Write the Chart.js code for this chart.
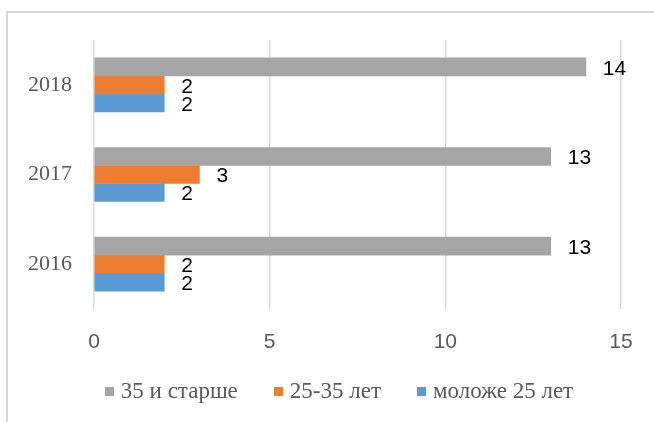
<!DOCTYPE html>
<html>
<head>
<meta charset="utf-8">
<script src="https://cdn.jsdelivr.net/npm/chart.js@4.4.0/dist/chart.umd.min.js"></script>
<style>
  html, body { margin: 0; padding: 0; background: #fff; overflow: hidden; }
  #wrap { position: relative; width: 654px; height: 422px; overflow: hidden; }
  #frame { position: absolute; left: 6px; top: 11px; width: 800px; height: 600px; border: 2px solid #d9d9d9; box-sizing: border-box; }
  #c { position: absolute; left: 0; top: 0; }
  #legend { position: absolute; top: 378px; left: 0; width: 678px; display: flex; justify-content: center; font-family: "Liberation Serif", "Times New Roman", serif; font-size: 23px; color: #595959; }
  .item { display: flex; align-items: center; margin: 0 18px; }
  .sw { width: 9px; height: 9px; margin-right: 7px; }
</style>
</head>
<body>
<div id="wrap">
  <div id="frame"></div>
  <canvas id="c" width="654" height="422"></canvas>
  <div id="legend"></div>
</div>
<script>
const categories = ['2018', '2017', '2016'];
const seriesNames = ['35 и старше', '25-35 лет', 'моложе 25 лет'];
const olderValues = [14, 13, 13];
const middleValues = [2, 3, 2];
const youngerValues = [2, 2, 2];
const xTicks = [0, 5, 10, 15];
const seriesColors = ['#a5a5a5', '#ed7d31', '#5b9bd5'];
const seriesValues = [olderValues, middleValues, youngerValues];

const dataLabels = {
  id: 'dataLabels',
  afterDatasetsDraw(chart) {
    const ctx = chart.ctx;
    ctx.save();
    ctx.font = '21px "Liberation Sans", Arial, sans-serif';
    ctx.fillStyle = '#000';
    ctx.textAlign = 'left';
    ctx.textBaseline = 'middle';
    chart.data.datasets.forEach((ds, i) => {
      chart.getDatasetMeta(i).data.forEach((el, j) => {
        ctx.fillText(String(ds.data[j]), el.x + 17, el.y + 2);
      });
    });
    ctx.restore();
  }
};

new Chart(document.getElementById('c'), {
  type: 'bar',
  data: {
    labels: categories,
    datasets: seriesNames.map((name, i) => ({
      label: name,
      data: seriesValues[i],
      backgroundColor: seriesColors[i],
      borderWidth: 0,
      barThickness: 18
    }))
  },
  options: {
    indexAxis: 'y',
    responsive: false,
    animation: false,
    layout: { padding: { top: 40, right: 33, left: 0, bottom: 63 } },
    plugins: { legend: { display: false }, tooltip: { enabled: false } },
    scales: {
      x: {
        min: 0, max: 15,
        afterBuildTicks(scale) { scale.ticks = xTicks.map(v => ({ value: v })); },
        afterFit(scale) { scale.height = 50; },
        grid: { color: '#d9d9d9', lineWidth: 1.5, drawTicks: false },
        border: { display: false },
        ticks: { padding: 21, color: '#595959', font: { family: '"Liberation Sans", Arial, sans-serif', size: 21 } }
      },
      y: {
        afterFit(scale) { scale.width = 94; },
        grid: { display: false, drawTicks: false },
        border: { display: false },
        ticks: { padding: 22, color: '#595959', font: { family: '"Liberation Serif", "Times New Roman", serif', size: 22 } }
      }
    }
  },
  plugins: [dataLabels]
});

const legend = document.getElementById('legend');
seriesNames.forEach((name, i) => {
  const item = document.createElement('div');
  item.className = 'item';
  const sw = document.createElement('span');
  sw.className = 'sw';
  sw.style.background = seriesColors[i];
  const t = document.createElement('span');
  t.textContent = name;
  item.appendChild(sw);
  item.appendChild(t);
  legend.appendChild(item);
});
</script>
</body>
</html>
